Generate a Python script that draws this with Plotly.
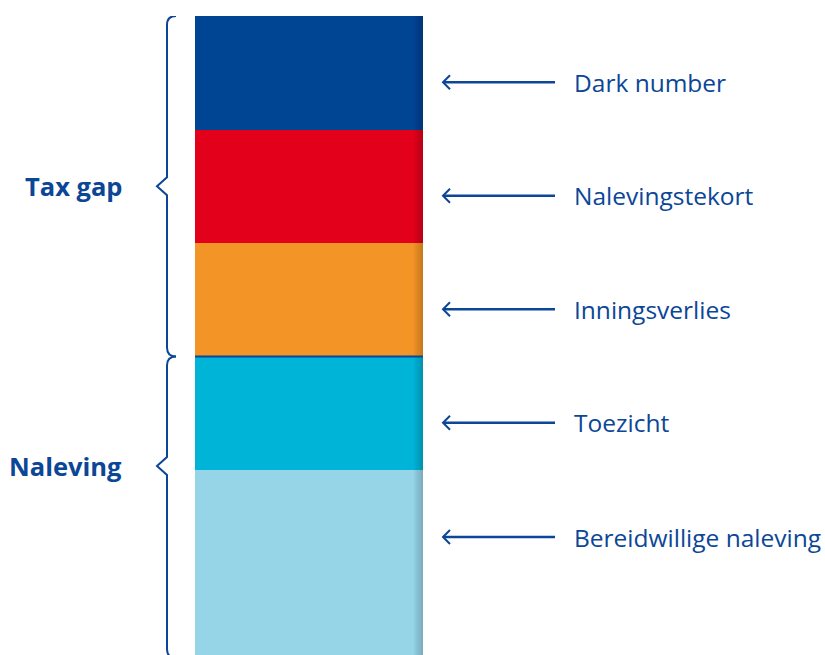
import plotly.graph_objects as go
import numpy as np

# ---- data (bottom to top) ----
categories = ["Bereidwillige naleving", "Toezicht", "Inningsverlies", "Nalevingstekort", "Dark number"]
values = [16.3, 10, 10, 10, 10]
colors = ["#96d4e8", "#00b4d8", "#f39426", "#e2001a", "#004494"]
groups = ["Naleving", "Naleving", "Tax gap", "Tax gap", "Tax gap"]
group_names = ["Tax gap", "Naleving"]

W, H = 825, 655
TOP = 16
total = sum(values)
plot_h = H - TOP
u = total / plot_h          # data units per pixel (y)
bar_left_px, bar_right_px = 195, 423
bw = 1.0
xpx = (bar_right_px - bar_left_px) / bw
xa = -((bar_left_px + bar_right_px) / 2) / xpx
xb = xa + W / xpx

BLUE = "#0b4697"
FONT = "Open Sans"

fig = go.Figure()
for c, v, col in zip(categories, values, colors):
    fig.add_trace(go.Bar(x=[0], y=[v], name=c, marker=dict(color=col, line=dict(width=0)),
                         width=bw, showlegend=False, hoverinfo="name"))

cum = np.concatenate([[0], np.cumsum(values)])
shapes = []
annotations = []

# right-edge shading of the bar
for k in range(1, 6):
    shapes.append(dict(type="rect", xref="x", yref="y", x0=0.5 - k * 0.008, x1=0.5,
                       y0=0, y1=total, fillcolor="rgba(0,0,0,0.035)", line=dict(width=0), layer="above"))

# separator between groups
sep = cum[2]
shapes.append(dict(type="line", xref="x", yref="y", x0=-0.5, x1=0.5, y0=sep, y1=sep,
                   line=dict(color=BLUE, width=2)))

# arrows + labels
ax0, ax1, lx = 443 / W, 555 / W, 572 / W
hx = 7 / W
for i, c in enumerate(categories):
    ymid = (cum[i] + cum[i + 1]) / 2 - 9.5 * u
    if i == 0:
        ymid = cum[i + 1] - 67 * u
    shapes.append(dict(type="line", xref="paper", yref="y", x0=ax0, x1=ax1, y0=ymid, y1=ymid,
                       line=dict(color=BLUE, width=2.5)))
    shapes.append(dict(type="path", xref="paper", yref="y",
                       path=f"M {ax0 + hx} {ymid + 7 * u} L {ax0} {ymid} L {ax0 + hx} {ymid - 7 * u}",
                       line=dict(color=BLUE, width=2)))
    annotations.append(dict(xref="paper", yref="y", x=lx, y=ymid, text=c, showarrow=False,
                            xanchor="left", yanchor="middle",
                            font=dict(family=FONT, size=24.5, color=BLUE)))

# braces
bx, tipx, endx = 167 / W, 157 / W, 176 / W
r = 9 * u
def brace(y_top, y_bot, y_tip):
    return (f"M {endx} {y_top} Q {bx} {y_top} {bx} {y_top - r} "
            f"L {bx} {y_tip + r} L {tipx} {y_tip} L {bx} {y_tip - r} "
            f"L {bx} {y_bot + r} Q {bx} {y_bot} {endx} {y_bot}")

tax_top, tax_bot = cum[5], cum[2]
tax_tip = (tax_top + tax_bot) / 2
nal_top, nal_bot = cum[2], cum[0] - 3 * u
nal_tip = cum[1] + 4 * u
for path in [brace(tax_top, tax_bot, tax_tip), brace(nal_top, nal_bot, nal_tip)]:
    shapes.append(dict(type="path", xref="paper", yref="y", path=path, line=dict(color=BLUE, width=2)))

for name, yt in zip(group_names, [tax_tip, nal_tip]):
    annotations.append(dict(xref="paper", yref="y", x=124 / W, y=yt, text=f"<b>{name}</b>",
                            showarrow=False, xanchor="right", yanchor="middle",
                            font=dict(family=FONT, size=25.5, color=BLUE)))

fig.update_layout(
    width=W, height=H, barmode="stack", bargap=0,
    margin=dict(l=0, r=0, t=TOP, b=0),
    paper_bgcolor="white", plot_bgcolor="white",
    xaxis=dict(range=[xa, xb], visible=False, fixedrange=True),
    yaxis=dict(range=[0, total], visible=False, fixedrange=True),
    shapes=shapes, annotations=annotations,
)
fig.write_html("out.html", config={"displayModeBar": False},
               post_script="document.body.style.margin='0';")
